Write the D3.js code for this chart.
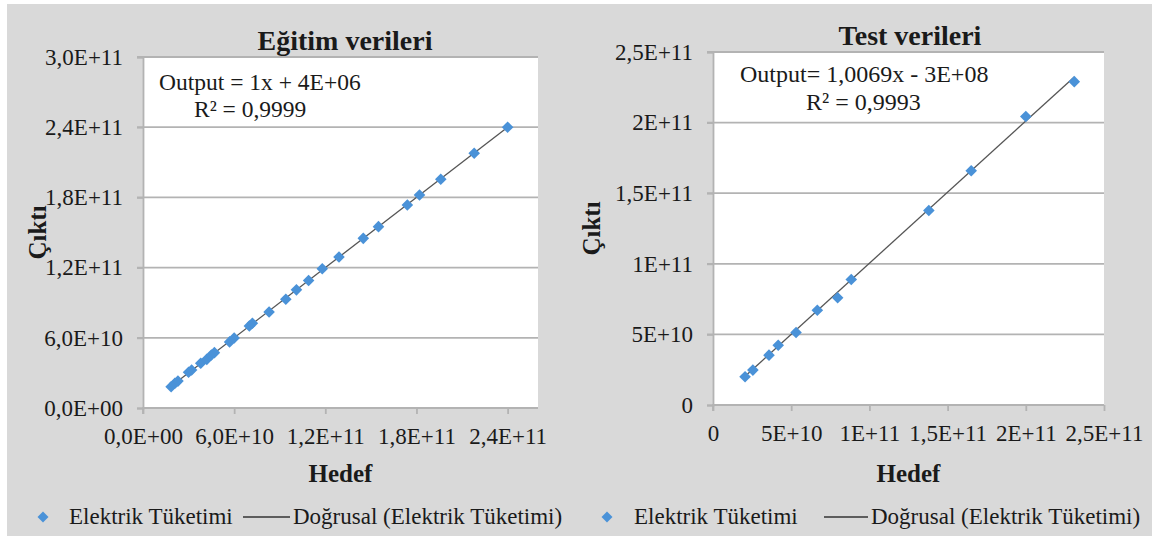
<!DOCTYPE html>
<html><head><meta charset="utf-8">
<script src="https://cdn.jsdelivr.net/npm/d3@7"></script>
<style>
html,body{margin:0;padding:0;background:#fff;}
svg text{font-family:"Liberation Serif","Times New Roman",serif;fill:#1a1a1a;}
</style></head>
<body><svg id="c" width="1159" height="537"></svg>
<script>
// ---- Data: training (Eğitim verileri) ----
const trainHedef = [1.85e10,2.1e10,2.3e10,3.0e10,3.2e10,3.8e10,4.2e10,4.5e10,4.7e10,5.7e10,6.0e10,7.0e10,7.2e10,8.3e10,9.4e10,1.01e11,1.09e11,1.18e11,1.29e11,1.45e11,1.55e11,1.74e11,1.82e11,1.96e11,2.18e11,2.40e11];
const trainCikti = [1.82e10,2.11e10,2.3e10,3.05e10,3.25e10,3.82e10,4.16e10,4.53e10,4.73e10,5.65e10,5.98e10,7.01e10,7.24e10,8.2e10,9.3e10,1.01e11,1.09e11,1.19e11,1.29e11,1.45e11,1.55e11,1.735e11,1.82e11,1.955e11,2.177e11,2.40e11];
const trainTrend = {slope:1, intercept:4e6};
const trainXTicks = [0,6e10,1.2e11,1.8e11,2.4e11];
const trainXTickLabels = ["0,0E+00","6,0E+10","1,2E+11","1,8E+11","2,4E+11"];
const trainYTicks = [0,6e10,1.2e11,1.8e11,2.4e11,3.0e11];
const trainYTickLabels = ["0,0E+00","6,0E+10","1,2E+11","1,8E+11","2,4E+11","3,0E+11"];
const trainXMax = 2.6e11, trainYMax = 3.0e11;
const trainTitle = "Eğitim verileri";
const trainEq = ["Output = 1x + 4E+06", "R² = 0,9999"];

// ---- Data: test (Test verileri) ----
const testHedef = [2.05e10,2.55e10,3.58e10,4.17e10,5.31e10,6.67e10,7.97e10,8.84e10,1.38e11,1.651e11,2.0e11,2.31e11];
const testCikti = [2.0e10,2.47e10,3.53e10,4.23e10,5.13e10,6.71e10,7.6e10,8.89e10,1.378e11,1.659e11,2.043e11,2.29e11];
const testTrend = {slope:1.0069, intercept:-3e8};
const testXTicks = [0,5e10,1e11,1.5e11,2e11,2.5e11];
const testXTickLabels = ["0","5E+10","1E+11","1,5E+11","2E+11","2,5E+11"];
const testYTicks = [0,5e10,1e11,1.5e11,2e11,2.5e11];
const testYTickLabels = ["0","5E+10","1E+11","1,5E+11","2E+11","2,5E+11"];
const testXMax = 2.5e11, testYMax = 2.5e11;
const testTitle = "Test verileri";
const testEq = ["Output= 1,0069x - 3E+08", "R² = 0,9993"];

const xLabel = "Hedef", yLabel = "Çıktı";
const legendSeries = "Elektrik Tüketimi", legendTrend = "Doğrusal (Elektrik Tüketimi)";

const svg = d3.select("#c");
svg.append("rect").attr("x",7).attr("y",4).attr("width",1145).attr("height",532).attr("fill","#d9d9d9");

const gridCol = "#b3b3b3", markerCol = "#4a92d8";
const diamondPath = r => `M0,${-r}L${r},0L0,${r}L${-r},0Z`;

function chart(o){
  const g = svg.append("g");
  const x = d3.scaleLinear().domain([0,o.xMax]).range([o.x0,o.x1]);
  const y = d3.scaleLinear().domain([0,o.yMax]).range([o.y1,o.y0]);
  g.append("rect").attr("x",o.x0).attr("y",o.y0).attr("width",o.x1-o.x0).attr("height",o.y1-o.y0).attr("fill","#fff");
  // gridlines
  g.append("g").selectAll("line").data(o.yTicks.filter(d=>d>0)).join("line")
    .attr("x1",o.x0-6).attr("x2",o.x1).attr("y1",d=>y(d)).attr("y2",d=>y(d))
    .attr("stroke",gridCol).attr("stroke-width",1.8);
  // y axis
  const ya = d3.axisLeft(y).tickValues(o.yTicks).tickFormat((d,i)=>o.yLabels[i]).tickSize(6).tickPadding(14);
  const yg = g.append("g").attr("transform",`translate(${o.x0},0)`).call(ya);
  yg.select(".domain").attr("stroke",gridCol).attr("stroke-width",1.8);
  yg.selectAll(".tick line").attr("stroke",gridCol).attr("stroke-width",1.8);
  yg.selectAll("text").attr("font-size",o.tickFs).attr("fill","#1a1a1a");
  // x axis
  const xa = d3.axisBottom(x).tickValues(o.xTicks).tickFormat((d,i)=>o.xLabels[i]).tickSize(6).tickPadding(14);
  const xg = g.append("g").attr("transform",`translate(0,${o.y1})`).call(xa);
  xg.select(".domain").attr("stroke",gridCol).attr("stroke-width",1.8).attr("d",`M${o.x0},6V0H${o.x1}`);
  xg.selectAll(".tick line").attr("stroke",gridCol).attr("stroke-width",1.8);
  xg.selectAll("text").attr("font-size",o.tickFs).attr("fill","#1a1a1a");
  // trendline
  const xs = d3.extent(o.hx);
  g.append("line").attr("x1",x(xs[0])).attr("y1",y(o.trend.slope*xs[0]+o.trend.intercept))
    .attr("x2",x(xs[1])).attr("y2",y(o.trend.slope*xs[1]+o.trend.intercept))
    .attr("stroke","#555").attr("stroke-width",1.3);
  // markers
  g.append("g").selectAll("path").data(o.hx.map((v,i)=>[v,o.cy[i]])).join("path")
    .attr("d",diamondPath(5.8)).attr("transform",d=>`translate(${x(d[0])},${y(d[1])})`).attr("fill",markerCol);
  // title
  g.append("text").attr("x",o.titleX).attr("y",o.titleY).attr("text-anchor","middle")
    .attr("font-size",o.titleFs).attr("font-weight","bold").text(o.title);
  // equation
  g.append("text").attr("x",o.eqX[0]).attr("y",o.eqY[0]).attr("font-size",o.eqFs).text(o.eq[0]);
  g.append("text").attr("x",o.eqX[1]).attr("y",o.eqY[1]).attr("font-size",o.eqFs).text(o.eq[1]);
  // axis titles
  g.append("text").attr("x",(o.x0+o.x1)/2).attr("y",o.xtY).attr("text-anchor","middle")
    .attr("font-size",25).attr("font-weight","bold").text(xLabel);
  g.append("text").attr("transform",`translate(${o.ytX},${(o.y0+o.y1)/2}) rotate(-90)`).attr("text-anchor","middle")
    .attr("font-size",25).attr("font-weight","bold").text(yLabel);
  // legend
  const L = o.leg;
  g.append("path").attr("d",diamondPath(5.5)).attr("transform",`translate(${L.mx},${L.y-7})`).attr("fill",markerCol);
  g.append("text").attr("x",L.t1).attr("y",L.y).attr("font-size",23).text(legendSeries);
  g.append("line").attr("x1",L.l0).attr("x2",L.l1).attr("y1",L.y-7).attr("y2",L.y-7).attr("stroke","#333").attr("stroke-width",1.3);
  g.append("text").attr("x",L.t2).attr("y",L.y).attr("font-size",23).text(legendTrend);
}

chart({x0:143,x1:538,y0:57,y1:408,xMax:trainXMax,yMax:trainYMax,hx:trainHedef,cy:trainCikti,trend:trainTrend,
  xTicks:trainXTicks,xLabels:trainXTickLabels,yTicks:trainYTicks,yLabels:trainYTickLabels,tickFs:23,
  title:trainTitle,titleX:345,titleY:50,titleFs:28,eq:trainEq,eqFs:23.5,eqX:[159,194],eqY:[90,117],xtY:482,ytX:46,
  leg:{mx:43,t1:69,l0:243,l1:290,t2:293,y:524}});
chart({x0:713,x1:1104,y0:52,y1:405,xMax:testXMax,yMax:testYMax,hx:testHedef,cy:testCikti,trend:testTrend,
  xTicks:testXTicks,xLabels:testXTickLabels,yTicks:testYTicks,yLabels:testYTickLabels,tickFs:23,
  title:testTitle,titleX:910,titleY:45,titleFs:28,eq:testEq,eqFs:24,eqX:[740,806],eqY:[82,110],xtY:482,ytX:600,
  leg:{mx:607,t1:634,l0:824,l1:868,t2:871,y:524}});
</script></body></html>
